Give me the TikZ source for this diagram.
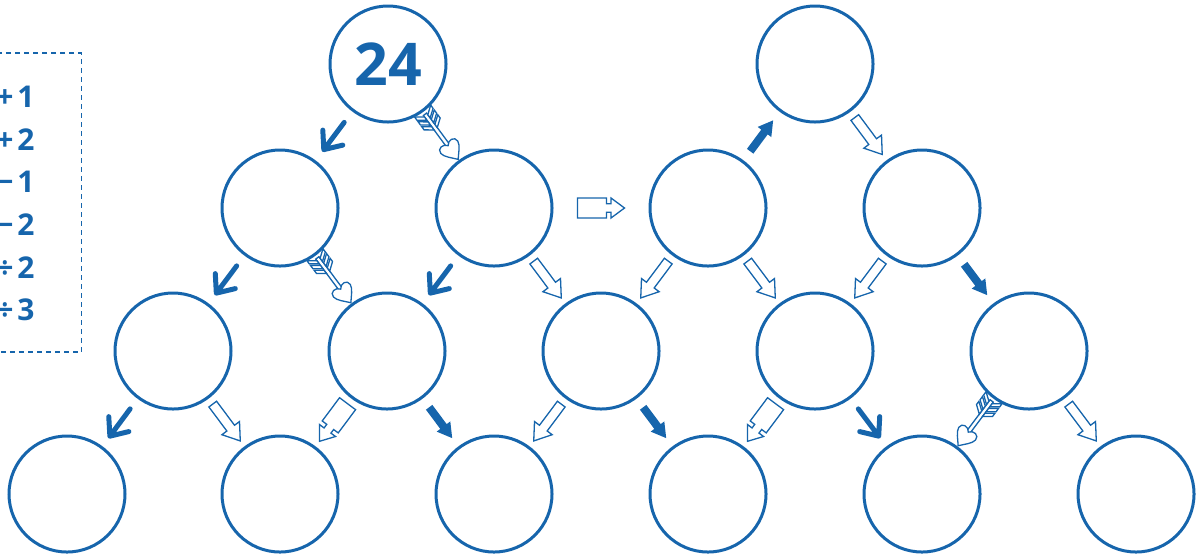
\documentclass[tikz,border=0pt]{standalone}
\usepackage{fontspec}
\setmainfont{Open Sans}
\usetikzlibrary{calc}
\definecolor{ink}{RGB}{22,101,172}

\begin{document}
\begin{tikzpicture}[x=0.5pt,y=0.5pt,
    ring/.style={draw=ink, line width=1.5pt, circle, minimum size=58pt, inner sep=0pt},
    rule/.style={text=ink, anchor=east, inner sep=0pt, font=\fontsize{15}{17}\selectfont\bfseries},
    outl/.style={draw=ink, line width=0.65pt, fill=white, line join=miter},
    pics/boldv/.style={code={
        \draw[ink, line width=2.5pt, line cap=round, line join=round] (-17,0) -- (17,0) (2,12.5) -- (17,0) -- (2,-12.5);
    }},
    pics/solid/.style={code={
        \fill[ink] (-19,-4) -- (5,-4) -- (5,-8.5) -- (19.5,0) -- (5,8.5) -- (5,4) -- (-19,4) -- cycle;
    }},
    pics/hollow/.style={code={
        \draw[outl] (-23,-4.8) -- (7,-4.8) -- (7,-11) -- (23,0) -- (7,11) -- (7,4.8) -- (-23,4.8) -- cycle;
    }},
    pics/notch/.style={code={
        \draw[outl] (-23.5,-10) -- (5.5,-10) -- (5.5,-4.3) -- (10,-4.3) -- (10,-10) -- (23.5,0) -- (10,10) -- (10,4.3) -- (5.5,4.3) -- (5.5,10) -- (-23.5,10) -- cycle;
    }},
    pics/heart/.style={code={
        \draw[outl] (-27,-2) rectangle (12,2);
        \foreach \f in {-25,-19,-13}{
            \draw[outl] (\f,2) -- (\f-6,10) -- (\f-2,10) -- (\f+4,2) -- cycle;
            \draw[outl] (\f,-2) -- (\f-6,-10) -- (\f-2,-10) -- (\f+4,-2) -- cycle;
        }
        \draw[outl] (12,0) .. controls (7,3) and (8,11) .. (14,10.5) .. controls (19,10) and (24,4) .. (29,0) .. controls (24,-4) and (19,-10) .. (14,-10.5) .. controls (8,-11) and (7,-3) .. (12,0) -- cycle;
    }}]
    \useasboundingbox (0,0) rectangle (1202,-559);

    %Legend box, cut at the left edge
    \draw[ink, line width=0.65pt, dash pattern=on 2.5pt off 2pt] (-60,-53) rectangle (81.5,-352);
    \node[rule] (plusone) at (35,-97) {+\kern2pt1};
    \node[rule] (plustwo) at (35,-140) {+\kern2pt2};
    \node[rule] (minusone) at (35,-182) {−\kern2pt1};
    \node[rule] (minustwo) at (35,-225) {−\kern2pt2};
    \node[rule] (divtwo) at (35,-268) {÷\kern2pt2};
    \node[rule] (divthree) at (35,-310) {÷\kern2pt3};

    %Top circles
    \node[ring, font=\fontsize{29.5}{32}\selectfont\bfseries, text=ink] (top) at (388,-64) {24};
    \node[ring] (toptwo) at (815,-64) {};

    %Second row
    \node[ring] (l2a) at (280,-208) {};
    \node[ring] (l2b) at (494,-208) {};
    \node[ring] (r2a) at (708,-208) {};
    \node[ring] (r2b) at (922,-208) {};

    %Third row
    \node[ring] (m3a) at (173,-351) {};
    \node[ring] (m3b) at (387,-351) {};
    \node[ring] (m3c) at (601,-351) {};
    \node[ring] (m3d) at (815,-351) {};
    \node[ring] (m3e) at (1029,-351) {};

    %Bottom row
    \node[ring] (b1) at (67,-494) {};
    \node[ring] (b2) at (280,-494) {};
    \node[ring] (b3) at (494,-494) {};
    \node[ring] (b4) at (708,-494) {};
    \node[ring] (b5) at (922,-494) {};
    \node[ring] (b6) at (1136,-494) {};

    %Arrow signs half way between the circles
    \foreach \a/\b/\k in {top/l2a/boldv, top/l2b/heart, l2a/m3a/boldv, l2a/m3b/heart,
        l2b/m3b/boldv, l2b/m3c/hollow, l2b/r2a/notch, r2a/toptwo/solid, toptwo/r2b/hollow,
        r2a/m3c/hollow, r2a/m3d/hollow, r2b/m3d/hollow, r2b/m3e/solid,
        m3a/b1/boldv, m3a/b2/hollow, m3b/b2/notch, m3b/b3/solid, m3c/b3/hollow,
        m3c/b4/solid, m3d/b4/notch, m3d/b5/boldv, m3e/b5/heart, m3e/b6/hollow}
        \path let \p1=($(\b)-(\a)$) in pic[rotate={atan2(\y1,\x1)}] at ($(\a)!.5!(\b)$) {\k};

\end{tikzpicture}
\end{document}
